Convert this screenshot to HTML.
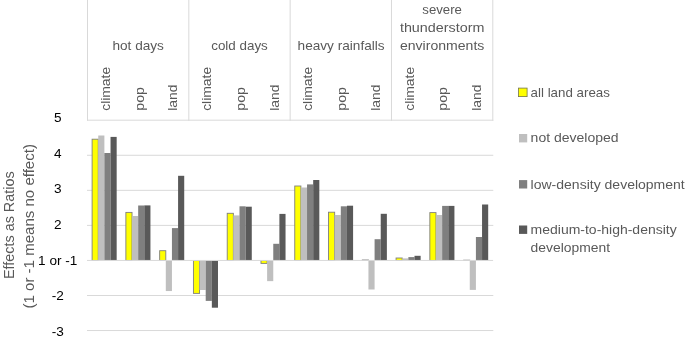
<!DOCTYPE html>
<html><head><meta charset="utf-8"><title>chart</title>
<style>html,body{margin:0;padding:0;background:#fff}svg{display:block;will-change:transform}text{font-family:"Liberation Sans",sans-serif}</style></head><body>
<svg width="685" height="343" viewBox="0 0 685 343">
<rect width="685" height="343" fill="#fff"/>
<line x1="87.0" x2="493.3" y1="120.2" y2="120.2" stroke="#d9d9d9" stroke-width="1"/>
<line x1="87.0" x2="493.3" y1="155.27" y2="155.27" stroke="#d9d9d9" stroke-width="1"/>
<line x1="87.0" x2="493.3" y1="190.33" y2="190.33" stroke="#d9d9d9" stroke-width="1"/>
<line x1="87.0" x2="493.3" y1="225.4" y2="225.4" stroke="#d9d9d9" stroke-width="1"/>
<line x1="87.0" x2="493.3" y1="295.5" y2="295.5" stroke="#d9d9d9" stroke-width="1"/>
<line x1="87.0" x2="493.3" y1="330.55" y2="330.55" stroke="#d9d9d9" stroke-width="1"/>
<line x1="87.50" x2="87.50" y1="0" y2="120.7" stroke="#d9d9d9" stroke-width="1"/>
<line x1="188.82" x2="188.82" y1="0" y2="120.7" stroke="#d9d9d9" stroke-width="1"/>
<line x1="290.15" x2="290.15" y1="0" y2="120.7" stroke="#d9d9d9" stroke-width="1"/>
<line x1="391.47" x2="391.47" y1="0" y2="120.7" stroke="#d9d9d9" stroke-width="1"/>
<line x1="492.80" x2="492.80" y1="0" y2="120.7" stroke="#d9d9d9" stroke-width="1"/>
<rect x="92.11" y="139.20" width="6.14" height="121.25" fill="#ffff00" stroke="#7f7f7f" stroke-width="0.9"/>
<rect x="98.25" y="135.50" width="6.14" height="124.95" fill="#bfbfbf"/>
<rect x="104.39" y="153.00" width="6.14" height="107.45" fill="#7f7f7f"/>
<rect x="110.53" y="136.90" width="6.14" height="123.55" fill="#595959"/>
<rect x="125.88" y="212.40" width="6.14" height="48.05" fill="#ffff00" stroke="#7f7f7f" stroke-width="0.9"/>
<rect x="132.02" y="216.00" width="6.14" height="44.45" fill="#bfbfbf"/>
<rect x="138.16" y="205.50" width="6.14" height="54.95" fill="#7f7f7f"/>
<rect x="144.30" y="205.40" width="6.14" height="55.05" fill="#595959"/>
<rect x="159.66" y="250.70" width="6.14" height="9.75" fill="#ffff00" stroke="#7f7f7f" stroke-width="0.9"/>
<rect x="165.80" y="260.45" width="6.14" height="30.60" fill="#bfbfbf"/>
<rect x="171.94" y="228.10" width="6.14" height="32.35" fill="#7f7f7f"/>
<rect x="178.08" y="175.80" width="6.14" height="84.65" fill="#595959"/>
<rect x="193.43" y="260.45" width="6.14" height="32.95" fill="#ffff00" stroke="#7f7f7f" stroke-width="0.9"/>
<rect x="199.57" y="260.45" width="6.14" height="29.55" fill="#bfbfbf"/>
<rect x="205.71" y="260.45" width="6.14" height="40.45" fill="#7f7f7f"/>
<rect x="211.85" y="260.45" width="6.14" height="47.25" fill="#595959"/>
<rect x="227.21" y="213.30" width="6.14" height="47.15" fill="#ffff00" stroke="#7f7f7f" stroke-width="0.9"/>
<rect x="233.35" y="215.40" width="6.14" height="45.05" fill="#bfbfbf"/>
<rect x="239.49" y="206.30" width="6.14" height="54.15" fill="#7f7f7f"/>
<rect x="245.63" y="206.70" width="6.14" height="53.75" fill="#595959"/>
<rect x="260.98" y="260.45" width="6.14" height="2.95" fill="#ffff00" stroke="#7f7f7f" stroke-width="0.9"/>
<rect x="267.12" y="260.45" width="6.14" height="20.70" fill="#bfbfbf"/>
<rect x="273.26" y="243.80" width="6.14" height="16.65" fill="#7f7f7f"/>
<rect x="279.40" y="213.90" width="6.14" height="46.55" fill="#595959"/>
<rect x="294.76" y="186.00" width="6.14" height="74.45" fill="#ffff00" stroke="#7f7f7f" stroke-width="0.9"/>
<rect x="300.90" y="187.50" width="6.14" height="72.95" fill="#bfbfbf"/>
<rect x="307.04" y="184.40" width="6.14" height="76.05" fill="#7f7f7f"/>
<rect x="313.18" y="180.00" width="6.14" height="80.45" fill="#595959"/>
<rect x="328.53" y="212.20" width="6.14" height="48.25" fill="#ffff00" stroke="#7f7f7f" stroke-width="0.9"/>
<rect x="334.67" y="215.00" width="6.14" height="45.45" fill="#bfbfbf"/>
<rect x="340.81" y="206.30" width="6.14" height="54.15" fill="#7f7f7f"/>
<rect x="346.95" y="205.70" width="6.14" height="54.75" fill="#595959"/>
<rect x="362.31" y="260.00" width="6.14" height="0.45" fill="#ffff00" stroke="#7f7f7f" stroke-width="0.9"/>
<rect x="368.45" y="260.45" width="6.14" height="29.05" fill="#bfbfbf"/>
<rect x="374.59" y="239.20" width="6.14" height="21.25" fill="#7f7f7f"/>
<rect x="380.73" y="213.80" width="6.14" height="46.65" fill="#595959"/>
<rect x="396.08" y="258.00" width="6.14" height="2.45" fill="#ffff00" stroke="#7f7f7f" stroke-width="0.9"/>
<rect x="402.22" y="258.40" width="6.14" height="2.05" fill="#bfbfbf"/>
<rect x="408.36" y="257.10" width="6.14" height="3.35" fill="#7f7f7f"/>
<rect x="414.50" y="255.80" width="6.14" height="4.65" fill="#595959"/>
<rect x="429.86" y="212.60" width="6.14" height="47.85" fill="#ffff00" stroke="#7f7f7f" stroke-width="0.9"/>
<rect x="436.00" y="215.00" width="6.14" height="45.45" fill="#bfbfbf"/>
<rect x="442.14" y="205.90" width="6.14" height="54.55" fill="#7f7f7f"/>
<rect x="448.28" y="205.90" width="6.14" height="54.55" fill="#595959"/>
<rect x="463.63" y="260.20" width="6.14" height="0.25" fill="#ffff00" stroke="#7f7f7f" stroke-width="0.9"/>
<rect x="469.77" y="260.45" width="6.14" height="29.45" fill="#bfbfbf"/>
<rect x="475.91" y="237.00" width="6.14" height="23.45" fill="#7f7f7f"/>
<rect x="482.05" y="204.50" width="6.14" height="55.95" fill="#595959"/>
<line x1="87.0" x2="493.1" y1="260.45" y2="260.45" stroke="#d9d9d9" stroke-width="1"/>
<text x="57.7" y="121.8" font-size="13.6" text-anchor="middle" fill="#000">5</text>
<text x="57.7" y="157.5" font-size="13.6" text-anchor="middle" fill="#000">4</text>
<text x="57.7" y="193.2" font-size="13.6" text-anchor="middle" fill="#000">3</text>
<text x="57.7" y="228.9" font-size="13.6" text-anchor="middle" fill="#000">2</text>
<text x="57.7" y="264.6" font-size="13.6" text-anchor="middle" fill="#000">1 or -1</text>
<text x="57.7" y="300.3" font-size="13.6" text-anchor="middle" fill="#000">-2</text>
<text x="57.7" y="336.0" font-size="13.6" text-anchor="middle" fill="#000">-3</text>
<text x="138.1625" y="49.6" font-size="13.6" text-anchor="middle" fill="#595959" textLength="51.46" lengthAdjust="spacingAndGlyphs">hot days</text>
<text x="239.48749999999998" y="49.6" font-size="13.6" text-anchor="middle" fill="#595959" textLength="56.59" lengthAdjust="spacingAndGlyphs">cold days</text>
<text x="341.1125" y="49.6" font-size="13.6" text-anchor="middle" fill="#595959" textLength="87.02" lengthAdjust="spacingAndGlyphs">heavy rainfalls</text>
<text x="442.1375" y="13.5" font-size="13.6" text-anchor="middle" fill="#595959" textLength="39.6" lengthAdjust="spacingAndGlyphs">severe</text>
<text x="442.1375" y="31.55" font-size="13.6" text-anchor="middle" fill="#595959" textLength="84.45" lengthAdjust="spacingAndGlyphs">thunderstorm</text>
<text x="442.1375" y="49.6" font-size="13.6" text-anchor="middle" fill="#595959" textLength="84.42" lengthAdjust="spacingAndGlyphs">environments</text>
<text x="109.74" y="110.8" font-size="13.6" text-anchor="start" fill="#595959" textLength="43.94" lengthAdjust="spacingAndGlyphs" transform="rotate(-90 109.74 110.8)">climate</text>
<text x="143.51" y="110.8" font-size="13.6" text-anchor="start" fill="#595959" textLength="23.83" lengthAdjust="spacingAndGlyphs" transform="rotate(-90 143.51 110.8)">pop</text>
<text x="177.29" y="110.8" font-size="13.6" text-anchor="start" fill="#595959" textLength="26.36" lengthAdjust="spacingAndGlyphs" transform="rotate(-90 177.29 110.8)">land</text>
<text x="211.06" y="110.8" font-size="13.6" text-anchor="start" fill="#595959" textLength="43.94" lengthAdjust="spacingAndGlyphs" transform="rotate(-90 211.06 110.8)">climate</text>
<text x="244.84" y="110.8" font-size="13.6" text-anchor="start" fill="#595959" textLength="23.83" lengthAdjust="spacingAndGlyphs" transform="rotate(-90 244.84 110.8)">pop</text>
<text x="278.61" y="110.8" font-size="13.6" text-anchor="start" fill="#595959" textLength="26.36" lengthAdjust="spacingAndGlyphs" transform="rotate(-90 278.61 110.8)">land</text>
<text x="312.39" y="110.8" font-size="13.6" text-anchor="start" fill="#595959" textLength="43.94" lengthAdjust="spacingAndGlyphs" transform="rotate(-90 312.39 110.8)">climate</text>
<text x="346.16" y="110.8" font-size="13.6" text-anchor="start" fill="#595959" textLength="23.83" lengthAdjust="spacingAndGlyphs" transform="rotate(-90 346.16 110.8)">pop</text>
<text x="379.94" y="110.8" font-size="13.6" text-anchor="start" fill="#595959" textLength="26.36" lengthAdjust="spacingAndGlyphs" transform="rotate(-90 379.94 110.8)">land</text>
<text x="413.71" y="110.8" font-size="13.6" text-anchor="start" fill="#595959" textLength="43.94" lengthAdjust="spacingAndGlyphs" transform="rotate(-90 413.71 110.8)">climate</text>
<text x="447.49" y="110.8" font-size="13.6" text-anchor="start" fill="#595959" textLength="23.83" lengthAdjust="spacingAndGlyphs" transform="rotate(-90 447.49 110.8)">pop</text>
<text x="481.26" y="110.8" font-size="13.6" text-anchor="start" fill="#595959" textLength="26.36" lengthAdjust="spacingAndGlyphs" transform="rotate(-90 481.26 110.8)">land</text>
<text x="14.0" y="225.2" font-size="14.1" text-anchor="middle" fill="#595959" textLength="107.65" lengthAdjust="spacingAndGlyphs" transform="rotate(-90 14.0 225.2)">Effects as Ratios</text>
<text x="33.9" y="226.3" font-size="14.1" text-anchor="middle" fill="#595959" textLength="164.46" lengthAdjust="spacingAndGlyphs" transform="rotate(-90 33.9 226.3)">(1 or -1 means no effect)</text>
<rect x="518.6" y="88.1" width="8.5" height="8.5" fill="#ffff00" stroke="#757546" stroke-width="0.8"/>
<text x="530.6" y="96.5" font-size="13.6" text-anchor="start" fill="#595959" textLength="79.28" lengthAdjust="spacingAndGlyphs">all land areas</text>
<rect x="519" y="134.0" width="8.2" height="8.4" fill="#bfbfbf"/>
<text x="530.6" y="142.4" font-size="13.6" text-anchor="start" fill="#595959" textLength="88.02" lengthAdjust="spacingAndGlyphs">not developed</text>
<rect x="519" y="180.1" width="8.2" height="8.4" fill="#7f7f7f"/>
<text x="530.6" y="188.5" font-size="13.6" text-anchor="start" fill="#595959" textLength="154.17" lengthAdjust="spacingAndGlyphs">low-density development</text>
<rect x="519" y="225.5" width="8.2" height="8.4" fill="#595959"/>
<text x="530.6" y="233.9" font-size="13.6" text-anchor="start" fill="#595959" textLength="146.08" lengthAdjust="spacingAndGlyphs">medium-to-high-density</text>
<text x="530.6" y="252" font-size="13.6" text-anchor="start" fill="#595959" textLength="79.43" lengthAdjust="spacingAndGlyphs">development</text>
</svg></body></html>
